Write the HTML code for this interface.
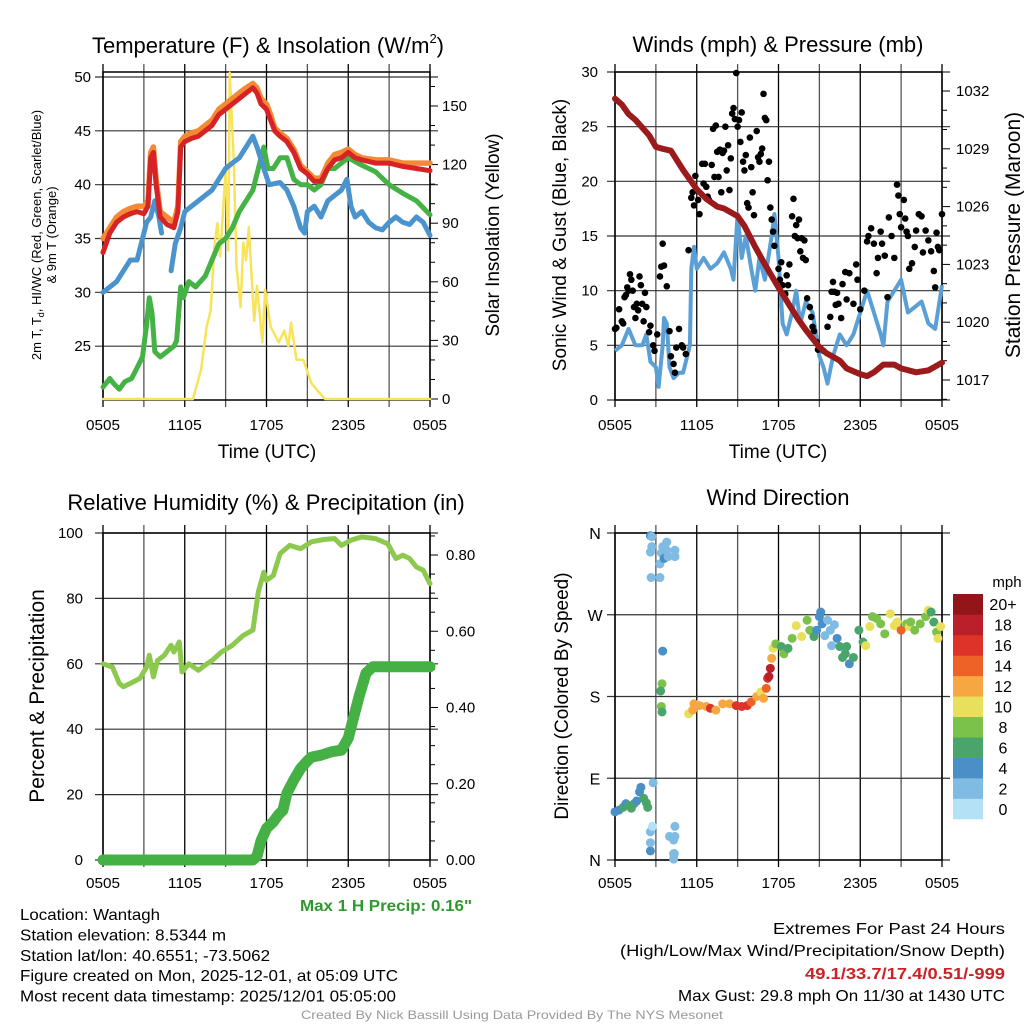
<!DOCTYPE html>
<html><head><meta charset="utf-8"><style>
body{margin:0;background:#fff;}
svg{display:block;font-family:"Liberation Sans",sans-serif;}
</style></head><body>
<svg id="fig" width="1024" height="1024" viewBox="0 0 1024 1024" xmlns="http://www.w3.org/2000/svg">
<rect width="1024" height="1024" fill="#fff"/>
</svg>
<script>
// ===== Panel 1 data (hours since 0505 UTC) =====
const t2mHours=[0,0.5,1,1.5,2,2.5,3,3.3,3.5,3.7,3.9,4.2,4.7,5.2,5.5,5.7,6,6.5,7,7.5,8,8.5,9,9.5,10,10.5,11,11.3,11.6,12,12.3,12.6,13,13.5,14,14.5,15,15.5,16,16.5,17,17.5,18,18.5,19,20,21,22,23,24];
const t2mValues=[33.7,35.5,36.5,37,37.3,37.5,37.3,38,42.5,43,40,37,36.3,36,37.5,43.5,44,44.3,44.5,45,45.5,46.5,47,47.5,48,48.5,49,48.5,47.5,47,46,45,44.5,44,43,41.5,41,40.3,40.3,41.5,42.3,42.5,43,42.5,42.3,42,42,41.7,41.5,41.3];
const t9mValues=[35,36,37,37.5,37.8,38,38,38.5,43,43.5,40.5,37.5,37,36.5,38,44,44.5,44.8,45,45.5,46,47,47.5,48,48.5,49,49.4,49,48,47.5,46.5,45.3,44.8,44.3,43.3,41.8,41.2,40.6,40.6,42,42.8,43,43.3,42.8,42.5,42.3,42.3,42,42,42];
const wcHours=[0,1,2,2.5,3,3.2,3.5,3.8,4.1,4.3,4.6,5,5.3,5.7,6,6.5,7,7.5,8,8.5,9,9.5,10,10.5,11,11.3,11.8,12.2,13,13.5,14,14.5,14.8,15,15.5,16,16.5,17,17.5,17.9,18.2,18.5,19,19.5,20,20.5,21,21.5,22,22.5,23,23.5,24];
const wcValues=[30,31,33,33,35.5,36.5,37,38.5,37,35.5,null,32,34.5,36,37.5,38,38.5,39,39.5,40.5,41.5,42,42.5,43.5,44.5,43.5,41.5,40,40.2,39.5,38,36,35.5,37.5,38,37,38.5,39,39.5,40.5,38,37,37.5,36.5,36,35.8,36.5,37,36.5,36.3,37,36.5,35.3];
const tdHours=[0,0.5,0.8,1.2,1.6,2.1,2.5,2.9,3.2,3.4,3.6,3.8,4.2,4.7,5.2,5.4,5.7,5.9,6.3,6.8,7.5,8,8.5,9,9.5,10,10.5,11,11.5,11.8,12.1,12.5,13,13.5,14,14.5,15,15.5,16,16.5,17,17.5,18,19,20,21,22,23,24];
const tdValues=[21.2,22,21.5,21,21.7,22,23,24,27,29.5,28,24.5,24,24.5,25,25.5,30.5,29.5,31,30.5,31.5,33,34.5,35,36,37.5,38.5,39.5,42,43.5,41.5,41.5,42.5,42.5,40.5,40,40,39.5,40,41.5,41.5,42,42.5,41.8,41.2,40,39.2,38.5,37.2];
const solHours=[0,6.6,7.2,7.6,7.9,8.2,8.4,8.6,9.0,9.2,9.3,9.6,9.8,10.1,10.3,10.5,10.7,11.1,11.3,11.7,11.9,12.3,12.9,13.3,13.6,13.8,14.2,14.7,15.3,15.9,16.3,24];
const solValues=[0,0,15,37,45,80,90,73,117,76,167,122,68,47,80,71,88,40,58,29,56,37,29,35,27,39,20,20,8,3,0,0];
const xTickLabels=["0505","1105","1705","2305","0505"];
const tempTicks=[25,30,35,40,45,50];
const solTicks=[0,30,60,90,120,150];

// ===== Panel 2 data =====
const windHours=[0,0.5,1,1.5,2,2.3,2.6,3,3.2,3.5,3.6,3.8,4,4.3,4.7,5,5.3,5.5,5.6,5.8,6,6.5,7,7.5,8,8.5,8.7,9,9.3,9.6,10,10.3,10.6,11,11.5,11.7,12,12.3,12.6,13,13.3,13.6,14,14.5,15,15.3,15.6,16,16.5,17,17.5,18,18.5,19,19.5,19.7,20,20.5,21,21.5,22,22.5,23,23.5,24];
const windValues=[4.5,5,6.5,5,5,6,3.5,3,1.2,5,7.5,7,3,2,2.5,2.5,4,5,12,14,12,13,12,12.5,13.5,12,11,17,13,15,12,10,13,11,15,17,13,7,6,8,10,7,9,8,4,3,1.5,4,6,5,6,8,10,8,6,5,9,10,11,8,8.5,9,7,6.5,10.5];
const gustHours=[0,0.1,0.3,0.5,0.6,0.7,0.8,0.9,1,1.1,1.2,1.3,1.4,1.5,1.6,1.7,1.8,1.9,2,2.1,2.2,2.3,2.5,2.6,2.8,2.9,3.1,3.3,3.4,3.5,3.6,3.8,4,4.1,4.3,4.4,4.5,4.7,4.9,5,5.2,5.4,5.6,5.7,5.8,5.9,6,6.1,6.2,6.4,6.5,6.6,6.7,6.8,6.9,7.1,7.2,7.3,7.4,7.5,7.6,7.7,7.8,7.9,8,8.1,8.2,8.3,8.4,8.5,8.6,8.7,8.8,8.9,9,9.1,9.2,9.3,9.4,9.5,9.6,9.7,9.8,9.9,10,10.1,10.2,10.4,10.5,10.6,10.7,10.8,10.9,11,11.1,11.2,11.3,11.4,11.5,11.6,11.7,12,12.1,12.2,12.3,12.5,12.6,12.7,12.8,13,13.1,13.2,13.3,13.4,13.5,13.6,13.7,13.8,13.9,14,14.1,14.3,14.4,14.5,14.6,14.8,14.9,15.1,15.3,15.6,15.8,15.9,16,16.1,16.2,16.3,16.4,16.6,16.7,16.9,17,17.2,17.5,17.7,17.8,18,18.3,18.5,18.6,18.8,19,19.2,19.3,19.5,19.6,19.8,20,20.1,20.3,20.5,20.7,20.8,20.9,21,21.2,21.3,21.4,21.5,21.6,21.8,22,22.1,22.3,22.5,22.6,22.8,23,23.2,23.4,23.5,23.6,23.7,23.8,24];
const gustValues=[6.5,6.6,8.3,7.2,7,9.4,9.6,10.3,10,11.5,11,10,8.5,7.5,8.8,8.2,11.3,10.5,8.8,7.2,9.8,8.5,6.2,6.8,5,4.5,6,11.3,12.2,14.3,12.3,10.4,6.3,4,3.3,2.5,4.8,6.5,5,4.8,4.2,13.7,18.5,19,17.8,20.5,19.2,18.3,17,21.6,19.8,21.6,19.5,18.6,18.3,21.5,24.8,20.4,25.1,22.7,20.4,22.9,19,22.6,22.8,25,21,23.3,19.2,22.1,26.2,26.7,25.7,29.9,25,25.6,23.6,26.3,21.8,21,22.4,18,17.6,24,21.3,19,16.9,24.6,22.2,21.8,22.5,23,28,25.8,25.6,20.1,21.8,17.6,16.5,15.4,14.1,12,11,12.6,10.5,9.7,11.4,10.5,12.4,16.8,18.4,15,16,14.8,16.5,13.6,14.8,13,14.6,12.8,9.3,8.5,7.6,6.7,6.3,5.3,4.6,4.7,4.5,6.7,7.6,9.9,10.8,9.9,8.7,9.8,8.8,7.5,10.6,11.7,9.2,11.6,8.8,12.4,11,8.3,10,14.5,15,15.7,14.3,11.6,13,15.4,14.3,13.2,9.4,16.7,15,13,19.7,18.7,17,15.8,18.3,16.6,15.4,15,12,12.5,14,15.5,17,16.8,13.5,15.5,14.6,13.6,11.8,10.3,15.3,14,13.7,17];
const presHours=[0,0.5,1,1.5,2,2.5,3,3.5,4.1,5,6,6.7,7.5,8,9,9.5,10.3,11,12,12.7,13.5,14,15,15.5,16.5,17,18,18.5,19,19.7,20.5,21,22.1,23,24];
const presValues=[1031.6,1031.3,1030.8,1030.5,1030.1,1029.7,1029.1,1029.0,1028.9,1027.9,1026.9,1026.4,1026.0,1025.9,1025.5,1025.0,1023.9,1023.0,1021.8,1021.0,1020.1,1019.6,1018.7,1018.4,1018.0,1017.6,1017.3,1017.2,1017.4,1017.8,1017.8,1017.6,1017.4,1017.5,1017.9];
const windTicks=[0,5,10,15,20,25,30];
const presTicks=[1017,1020,1023,1026,1029,1032];

// ===== Panel 3 data =====
const rhHours=[0,0.7,1.2,1.5,2,2.7,3.2,3.4,3.7,4,4.5,5,5.2,5.6,5.8,6.3,7,7.5,8,8.7,9.5,10.3,11,11.4,11.8,12,12.5,13,13.7,14.5,15.3,16.2,17,17.5,18.2,19,20,20.9,21.5,22,22.5,23,23.5,24];
const rhValues=[60,59,54,53,54,55.5,59,62.6,56,61,62.6,65.7,63.6,66.7,57.5,60,58,59.6,61,63.6,65.7,68.7,70.3,82,88,85.5,87,93.7,96.2,95.2,97.3,98,98.3,96.2,97.8,98.8,98.3,96.7,92.2,93.2,92.2,89.6,88.6,84.5];
const pcpHours=[0,11,11.3,11.6,12,12.5,12.9,13.2,13.5,14,14.5,15,15.3,16,16.8,17.5,18,18.4,18.8,19.3,19.8,24];
const pcpValues=[0,0,0.01,0.05,0.083,0.1,0.12,0.13,0.175,0.21,0.24,0.26,0.27,0.275,0.284,0.288,0.32,0.375,0.43,0.49,0.507,0.507];
const rhTicks=[0,20,40,60,80,100];
const pcpTicks=["0.00","0.20","0.40","0.60","0.80"];

// ===== Panel 4 data =====
const dirHours=[0,0.3,0.6,0.8,1,1.2,1.4,1.6,1.8,1.9,2.1,2.3,2.4,2.6,2.6,2.6,2.7,2.6,2.7,2.65,3.3,2.6,2.75,2.8,3.3,3.4,3.5,3.6,3.8,3.8,3.9,4.0,4.3,4.4,4.4,4.3,4.3,4.35,4.35,4.4,4.4,3.5,3.45,3.35,3.4,3.45,5.4,5.7,5.8,6.2,6.7,7.0,7.4,7.9,8.4,8.9,9.3,9.7,10.0,10.4,10.7,10.9,11.1,11.2,11.3,11.4,11.5,11.6,11.8,12.2,12.4,12.7,13.0,13.3,13.7,14.1,14.3,14.6,14.8,15.0,15.1,15.2,15.4,15.6,15.8,15.9,16.1,16.3,16.5,16.7,16.9,17.0,17.2,17.5,17.9,18.2,18.4,18.7,18.9,19.2,19.5,19.8,20.2,20.5,20.7,21.0,21.4,21.6,21.7,22.0,22.4,22.8,23.0,23.2,23.4,23.6,23.7,23.9];
const dirValues=[53,55,58,62,60,57,62,65,75,80,68,63,58,31,10,357,356,339,345,311,311,19,37,85,326,338,345,332,341,350,334,26,22,26,37,7,1,7,7,334,341,230,194,186,169,163,161,165,172,170,169,167,165,172,172,170,169,170,174,180,185,178,189,200,202,211,222,233,238,235,227,233,244,258,246,264,253,246,253,268,273,260,247,264,253,236,259,244,235,223,227,235,216,223,253,240,236,257,268,266,260,249,271,258,262,253,260,257,262,253,260,268,275,273,262,251,244,257,275];
const dirSpeeds=[4,4,6,4,6,6,6,4,4,4,6,6,6,2,4,4,2,2,2,2,2,2,0,2,2,2,2,4,2,2,2,2,2,2,2,2,2,2,2,2,2,4,8,6,8,6,10,12,12,12,12,16,12,12,12,16,16,16,14,12,10,12,14,16,18,18,12,10,8,6,8,6,8,10,10,8,8,6,4,4,4,4,2,2,2,2,2,4,6,6,6,6,4,6,6,6,10,10,8,8,8,8,10,10,10,14,8,10,8,8,8,8,10,6,6,8,10,10,10];
const dirTickLabels=["N","E","S","W","N"];
const speedBins=["0","2","4","6","8","10","12","14","16","18","20+"];
const speedColors=["#b3e2f6","#7fbbe3","#4a90c6","#4aa56d","#7bc24a","#e8e05a","#f6a742","#ee6227","#dd3329","#b9202a","#921619"];

const NS="http://www.w3.org/2000/svg";
const svg=document.getElementById('fig');
function mk(tag,attrs,parent,text){const e=document.createElementNS(NS,tag);for(const k in attrs)e.setAttribute(k,attrs[k]);if(text!==undefined)e.textContent=text;(parent||svg).appendChild(e);return e;}
function grp(name){const g=document.createElementNS(NS,'g');svg.appendChild(g);return g;}
function lin(d0,d1,r0,r1){return v=>r0+(v-d0)*(r1-r0)/(d1-d0);}
function pathFrom(hs,vs,sx,sy){let d="",pen=false;for(let i=0;i<hs.length;i++){if(vs[i]===null){pen=false;continue;}d+=(pen?"L":"M")+sx(hs[i]).toFixed(1)+","+sy(vs[i]).toFixed(1);pen=true;}return d;}

function frame(g,x0,x1,y0,y1,sx,hlines){
  for(let h=0;h<=24;h+=3){const x=sx(h);mk('line',{x1:x,x2:x,y1:y0-8,y2:y1+7,stroke:h%6==0?'#000':'#555','stroke-width':1.3},g);}
  hlines.forEach(y=>{mk('line',{x1:x0-8,x2:x1+8,y1:y,y2:y,stroke:'#333','stroke-width':1.2},g);});
  mk('rect',{x:x0,y:y0,width:x1-x0,height:y1-y0,fill:'none',stroke:'#000','stroke-width':1.5},g);
}
function xLabels(g,sx,y){xTickLabels.forEach((s,i)=>{const t=mk('text',{x:sx(i*6),y:y,'font-size':15,'text-anchor':'middle',textLength:34,lengthAdjust:'spacingAndGlyphs'},g,s);});}
function txt(g,name,x,y,size,s,opts){const a=Object.assign({x:x,y:y,'font-size':size,'text-anchor':'middle'},opts||{});const t=mk('text',a,g,s);return t;}

// ---------- Panel 1 ----------
(function(){
  const g=grp('temperature-panel');
  const X0=103,X1=430,Y0=72,Y1=400;
  const sx=lin(0,24,X0,X1), sy=lin(20,50,400,77), ss=lin(0,150,399,106);
  frame(g,X0,X1,Y0,Y1,sx,tempTicks.map(sy));
  tempTicks.forEach(v=>txt(g,'temp-tick-label',X0-12,sy(v)+5,15,String(v),{'text-anchor':'end'}));
  for(let v=0;v<=165;v+=10){const y=ss(v);if(y<Y0)continue;mk('line',{x1:X1,x2:X1+(v%30==0?8:5),y1:y,y2:y,stroke:'#000','stroke-width':1},g);}
  solTicks.forEach(v=>txt(g,'solar-tick-label',X1+12,ss(v)+5,15,String(v),{'text-anchor':'start'}));
  const mkLine=(name,hs,vs,col,w,scale)=>{const p=mk('path',{d:pathFrom(hs,vs,sx,scale),fill:'none',stroke:col,'stroke-width':w,'stroke-linejoin':'round','stroke-linecap':'round'},g);};
  mkLine('insolation-line',solHours,solValues,'#f7e45a',2.5,ss);
  mkLine('dewpoint-line',tdHours,tdValues,'#44b244',5,sy);
  mkLine('windchill-line',wcHours,wcValues,'#4a93cc',5,sy);
  mkLine('temp-9m-line',t2mHours,t9mValues,'#f58a35',5.5,sy);
  mkLine('temp-2m-line',t2mHours,t2mValues,'#d62326',5,sy);
  xLabels(g,sx,430);
  const tt=txt(g,'panel-title',268,53,22,'Temperature (F) & Insolation (W/m');
  mk('tspan',{'font-size':13,dy:-10},tt,'2');
  mk('tspan',{dy:10},tt,')');
  txt(g,'x-axis-title',267,458,19,'Time (UTC)');
  const yl=mk('text',{transform:'translate(41,235) rotate(-90)','font-size':13,'text-anchor':'middle'},g,'2m T, T');
  mk('tspan',{'font-size':9,dy:3},yl,'d');mk('tspan',{dy:-3},yl,', HI/WC (Red, Green, Scarlet/Blue)');
  txt(g,'y-axis-title-2',0,0,13,'& 9m T (Orange)',{transform:'translate(56,235) rotate(-90)'});
  txt(g,'y2-axis-title',0,0,19,'Solar Insolation (Yellow)',{transform:'translate(499,235) rotate(-90)'});
})();

// ---------- Panel 2 ----------
(function(){
  const g=grp('wind-panel');
  const X0=615,X1=942,Y0=72,Y1=400;
  const sx=lin(0,24,X0,X1), sy=lin(0,30,400,72), sp=lin(1017,1032,380,91);
  frame(g,X0,X1,Y0,Y1,sx,windTicks.map(sy));
  windTicks.forEach(v=>txt(g,'wind-tick-label',X0-17,sy(v)+5,15,String(v),{'text-anchor':'end'}));
  for(let v=1016;v<=1033;v++){const y=sp(v);if(y<Y0||y>Y1)continue;mk('line',{x1:X1,x2:X1+(v%3==0?8:5),y1:y,y2:y,stroke:'#000','stroke-width':1},g);}
  presTicks.forEach(v=>txt(g,'pressure-tick-label',X1+14,sp(v)+5,15,String(v),{'text-anchor':'start'}));
  const wl=mk('path',{d:pathFrom(windHours,windValues,sx,sy),fill:'none',stroke:'#5aa0d6','stroke-width':4,'stroke-linejoin':'round'},g);
  
  gustHours.forEach((h,i)=>{const c=mk('circle',{cx:sx(h),cy:sy(gustValues[i]),r:3.3,fill:'#000'},g);});
  const pl=mk('path',{d:pathFrom(presHours,presValues,sx,sp),fill:'none',stroke:'#9b1a1c','stroke-width':6,'stroke-linejoin':'round','stroke-linecap':'round'},g);
  
  xLabels(g,sx,430);
  txt(g,'panel-title',778,52,22,'Winds (mph) & Pressure (mb)');
  txt(g,'x-axis-title',778,458,19,'Time (UTC)');
  txt(g,'y-axis-title',0,0,19,'Sonic Wind & Gust (Blue, Black)',{transform:'translate(566,235) rotate(-90)'});
  txt(g,'y2-axis-title',0,0,21,'Station Pressure (Maroon)',{transform:'translate(1020,235) rotate(-90)'});
})();

// ---------- Panel 3 ----------
(function(){
  const g=grp('humidity-panel');
  const X0=103,X1=430,Y0=533,Y1=860;
  const sx=lin(0,24,X0,X1), sy=lin(0,100,860,533), sp=lin(0,0.8,860,555);
  frame(g,X0,X1,Y0,Y1,sx,rhTicks.map(sy));
  rhTicks.forEach(v=>txt(g,'rh-tick-label',X0-20,sy(v)+5,15,String(v),{'text-anchor':'end'}));
  for(let v=0;v<=0.86;v+=0.05){const y=sp(v);mk('line',{x1:X1,x2:X1+(Math.round(v*100)%20==0?8:5),y1:y,y2:y,stroke:'#000','stroke-width':1},g);}
  pcpTicks.forEach(s=>txt(g,'precip-tick-label',X1+16,sp(parseFloat(s))+5,15,s,{'text-anchor':'start'}));
  const rl=mk('path',{d:pathFrom(rhHours,rhValues,sx,sy),fill:'none',stroke:'#8cc94e','stroke-width':5,'stroke-linejoin':'round','stroke-linecap':'round'},g);
  
  const pl=mk('path',{d:pathFrom(pcpHours,pcpValues,sx,sp),fill:'none',stroke:'#45b145','stroke-width':11,'stroke-linejoin':'round','stroke-linecap':'round'},g);
  
  xLabels(g,sx,888);
  txt(g,'panel-title',266,510,22,'Relative Humidity (%) & Precipitation (in)');
  txt(g,'y-axis-title',0,0,21,'Percent & Precipitation',{transform:'translate(44,696) rotate(-90)'});
  txt(g,'max-precip-note',386,911,16,'Max 1 H Precip: 0.16"',{fill:'#2e9a2e','font-weight':'bold',textLength:172,lengthAdjust:'spacingAndGlyphs'});
})();

// ---------- Panel 4 ----------
(function(){
  const g=grp('wind-direction-panel');
  const X0=615,X1=942,Y0=533,Y1=860;
  const sx=lin(0,24,X0,X1), sy=lin(0,360,860,533);
  frame(g,X0,X1,Y0,Y1,sx,[0,90,180,270,360].map(sy));
  dirTickLabels.forEach((s,i)=>txt(g,'direction-tick-label',X0-20,sy(i*90)+6,16,s,{'text-anchor':'middle'}));
  dirHours.forEach((h,i)=>{const bi=Math.min(10,Math.round(dirSpeeds[i]/2));const c=mk('circle',{cx:sx(h),cy:sy(dirValues[i]),r:4.5,fill:speedColors[bi]},g);});
  xLabels(g,sx,888);
  txt(g,'panel-title',778,505,22,'Wind Direction');
  txt(g,'y-axis-title',0,0,19,'Direction (Colored By Speed)',{transform:'translate(568,696) rotate(-90)'});
  const cb=grp('speed-colorbar');
  const cbTop=594,cbBot=819,bh=(cbBot-cbTop)/11;
  speedBins.forEach((s,i)=>{const y=cbBot-(i+1)*bh;const r=mk('rect',{x:953,y:y,width:30,height:bh+0.3,fill:speedColors[i]},cb);
    txt(cb,'colorbar-label',1003,y+bh/2+6,16,s,{'text-anchor':'middle'});});
  txt(cb,'colorbar-title',1007,587,15,'mph');
})();

// ---------- Footer ----------
(function(){
  const g=grp('footer');
  const L=["Location: Wantagh","Station elevation: 8.5344 m","Station lat/lon: 40.6551; -73.5062","Figure created on Mon, 2025-12-01, at 05:09 UTC","Most recent data timestamp: 2025/12/01 05:05:00"];
  const W=[140,206,250,378,376];
  L.forEach((s,i)=>txt(g,'station-info-line',20,920+i*20.4,16,s,{'text-anchor':'start',textLength:W[i],lengthAdjust:'spacingAndGlyphs'}));
  txt(g,'extremes-title',1005,934,16,'Extremes For Past 24 Hours',{'text-anchor':'end',textLength:232,lengthAdjust:'spacingAndGlyphs'});
  txt(g,'extremes-legend',1005,956,16,'(High/Low/Max Wind/Precipitation/Snow Depth)',{'text-anchor':'end',textLength:385,lengthAdjust:'spacingAndGlyphs'});
  txt(g,'extremes-values',1005,979,16,'49.1/33.7/17.4/0.51/-999',{'text-anchor':'end',fill:'#cc2127','font-weight':'bold',textLength:200,lengthAdjust:'spacingAndGlyphs'});
  txt(g,'max-gust-text',1005,1001,16,'Max Gust: 29.8 mph On 11/30 at 1430 UTC',{'text-anchor':'end',textLength:327,lengthAdjust:'spacingAndGlyphs'});
  txt(g,'credit-text',512,1019,12,'Created By Nick Bassill Using Data Provided By The NYS Mesonet',{fill:'#999',textLength:422,lengthAdjust:'spacingAndGlyphs'});
})();
</script>
</body></html>
